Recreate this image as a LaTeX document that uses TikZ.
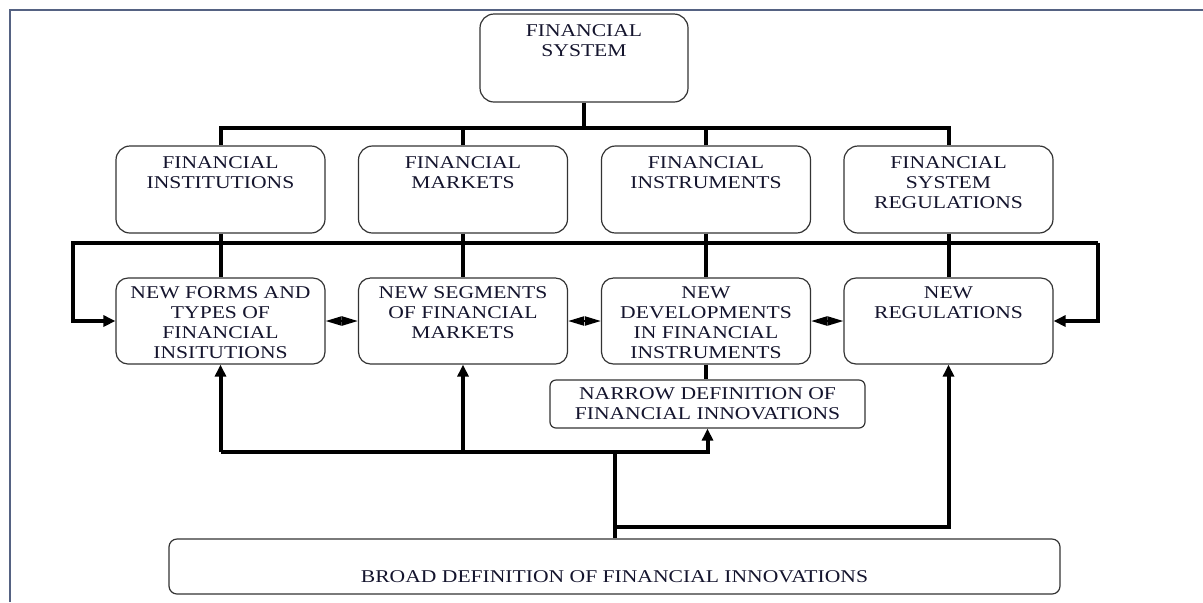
\documentclass[tikz,border=0pt]{standalone}
\usepackage{fontspec}
\setmainfont{Liberation Serif}[FakeStretch=1.2]
\usetikzlibrary{arrows.meta}

\newcommand*{\topbus}{128}
\newcommand*{\midbus}{243}
\newcommand*{\lowbus}{452}
\newcommand*{\rbus}{527}

\definecolor{framecol}{RGB}{85,98,130}
\definecolor{ink}{RGB}{20,20,45}

\tikzset{
	box/.style={draw=black!80, line width=0.6pt, rounded corners=7pt,
		minimum width=104.5pt, minimum height=43.5pt, inner sep=0pt},
	txt/.style={anchor=north, align=center, inner sep=0pt, text=ink,
		font=\fontsize{9}{10}\selectfont, yshift=-5.3pt},
	link/.style={line width=2pt, black},
	pointer/.style={-{Triangle[length=6pt,width=5.5pt]}},
	twoway/.style={line width=1pt,
		{Triangle[length=8pt,width=4.5pt]}-{Triangle[length=8pt,width=4.5pt]}},
}

\begin{document}
\begin{tikzpicture}[x=0.5pt,y=-0.5pt]

	\useasboundingbox (0,0) rectangle (1203,602);

	% page frame
	\draw[framecol, line width=1pt] (10,602) -- (10,10) -- (1203,10);

	% top
	\node[box, minimum width=104pt, minimum height=44pt, label={[txt]north:FINANCIAL\\SYSTEM}] (sys) at (584,58) {};

	% components of the system
	\node[box, label={[txt]north:FINANCIAL\\INSTITUTIONS}] (fi) at (220.5,189.5) {};
	\node[box, label={[txt]north:FINANCIAL\\MARKETS}] (fm) at (463,189.5) {};
	\node[box, label={[txt]north:FINANCIAL\\INSTRUMENTS}] (fins) at (706,189.5) {};
	\node[box, label={[txt]north:FINANCIAL\\SYSTEM\\REGULATIONS}] (fsr) at (948.5,189.5) {};

	% innovations
	\node[box, rounded corners=6pt, minimum height=43pt, label={[txt, yshift=1pt]north:NEW FORMS AND\\TYPES OF\\FINANCIAL\\INSITUTIONS}] (nf) at (220.5,321) {};
	\node[box, rounded corners=6pt, minimum height=43pt, label={[txt, yshift=1pt]north:NEW SEGMENTS\\OF FINANCIAL\\MARKETS}] (ns) at (463,321) {};
	\node[box, rounded corners=6pt, minimum height=43pt, label={[txt, yshift=1pt]north:NEW\\DEVELOPMENTS\\IN FINANCIAL\\INSTRUMENTS}] (nd) at (706,321) {};
	\node[box, rounded corners=6pt, minimum height=43pt, label={[txt, yshift=1pt]north:NEW\\REGULATIONS}] (nr) at (948.5,321) {};

	\node[box, rounded corners=3pt, minimum width=157.5pt, minimum height=24pt, label={[txt, yshift=1.5pt]north:NARROW DEFINITION OF\\FINANCIAL INNOVATIONS}] (nw) at (707.5,404) {};
	\node[box, rounded corners=4pt, minimum width=445.5pt, minimum height=27.5pt, label={[txt, yshift=0.3pt, anchor=center]center:BROAD DEFINITION OF FINANCIAL INNOVATIONS}] (broad) at (614.5,566.5) {};

	% system to components
	\draw[link] (sys.south) -- (sys.south |- 0,\topbus);
	\draw[link] (fi.north) -- (fi.north |- 0,\topbus) -- (fsr.north |- 0,\topbus) -- (fsr.north);
	\draw[link] (fm.north) -- (fm.north |- 0,\topbus);
	\draw[link] (fins.north) -- (fins.north |- 0,\topbus);

	% components to innovations
	\draw[link] (fi.south) -- (nf.north);
	\draw[link] (fm.south) -- (ns.north);
	\draw[link] (fins.south) -- (nd.north);
	\draw[link] (fsr.south) -- (nr.north);
	\coordinate (midL) at (73,\midbus);
	\coordinate (midR) at (1098,\midbus);
	\draw[link, pointer] (midR) -- (midL) |- (nf.west);
	\draw[link, pointer] (midR) |- (nr.east);

	\draw[twoway] (nf.east) -- (ns.west);
	\draw[twoway] (ns.east) -- (nd.west);
	\draw[twoway] (nd.east) -- (nr.west);

	\draw[link] (nd.south) -- (nd.south |- nw.north);

	% broad definition upwards
	\draw[link] (broad.north) -- (broad.north |- 0,\lowbus);
	\draw[link, pointer] (nf.south |- 0,\lowbus) -| (nw.south);
	\draw[link, pointer] (nf.south |- 0,\lowbus) -- (nf.south);
	\draw[link, pointer] (ns.south |- 0,\lowbus) -- (ns.south);
	\draw[link, pointer] (broad.north |- 0,\rbus) -| (nr.south);

\end{tikzpicture}
\end{document}
